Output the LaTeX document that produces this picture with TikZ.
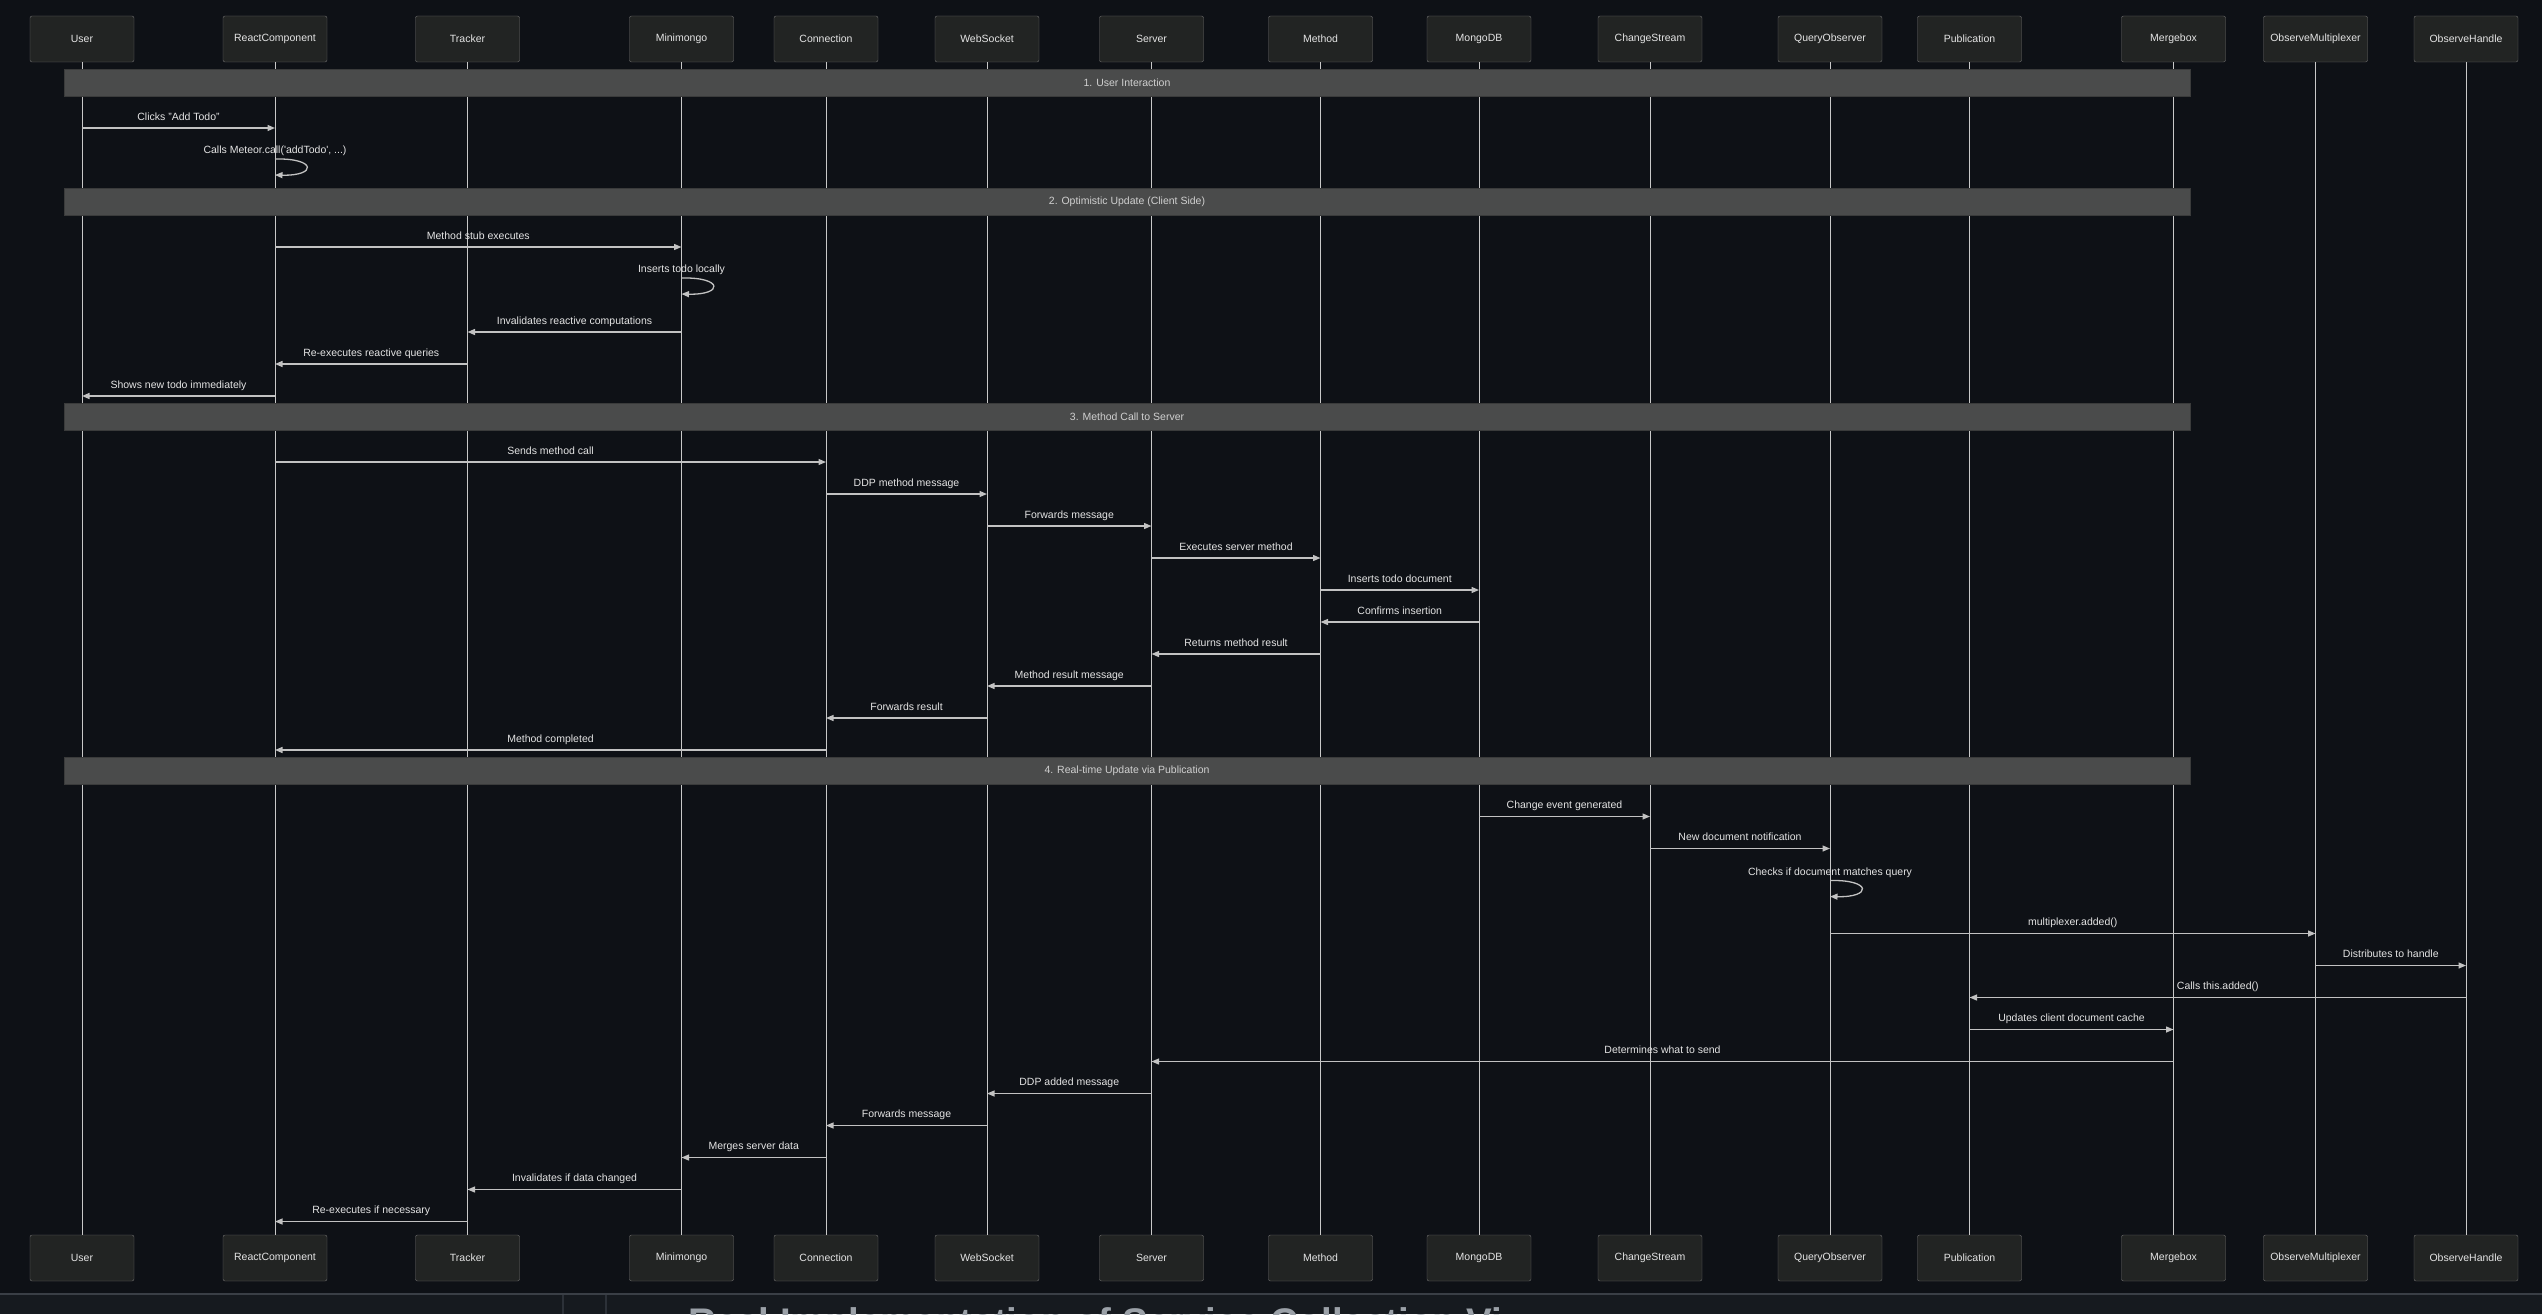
\documentclass[tikz,border=0pt]{standalone}
\usepackage{fontspec}
\setmainfont{Liberation Sans}
\usetikzlibrary{arrows.meta,positioning}

\definecolor{bg}{HTML}{0E1116}
\definecolor{boxfill}{HTML}{222423}
\definecolor{boxline}{HTML}{707070}
\definecolor{txt}{HTML}{E4E4E4}
\definecolor{life}{HTML}{C8C8C8}
\definecolor{msg}{HTML}{C2C2C2}
\definecolor{band}{HTML}{4A4B4B}
\definecolor{bandline}{HTML}{3A3B3B}
\definecolor{bandtxt}{HTML}{D0D0D0}
\definecolor{foot}{HTML}{161A1F}
\definecolor{footline}{HTML}{3A3F46}
\definecolor{footsep}{HTML}{2C3138}
\definecolor{foottxt}{HTML}{9BA1A8}

\begin{document}
\begin{tikzpicture}[x=1pt,y=-1pt,font=\fontsize{10.5}{12}\selectfont]
\tikzset{
    %Define standard arrow tip
    >={Triangle[length=7.5pt,width=6pt]},
    %Define style for participant boxes
    aktor/.style={
           rectangle,
           rounded corners=2pt,
           draw=boxline, fill=boxfill,
           text=txt,
           minimum width=104pt,
           minimum height=46pt,
           },
    % Define lifeline style
    livlinje/.style={
           draw=life,
           line width=0.9pt},
    % Define section band style
    sektion/.style={
           rectangle,
           draw=bandline, fill=band,
           text=bandtxt,
           minimum width=2126pt,
           minimum height=27pt,
           },
    % Define message style
    besked/.style={
           ->,
           draw=msg,
           line width=1.3pt,},
    tekst/.style={
           anchor=base,
           yshift=7.6pt,
           inner sep=0pt,
           text=txt},
    loektekst/.style={
           anchor=base,
           inner sep=0pt,
           text=txt}
}
	\fill[bg] (0,0) rectangle (2542,1314);
	\useasboundingbox (0,0) rectangle (2542,1314);

 %footer
	\fill[foot] (0,1294) rectangle (2542,1314);
	\draw[footline,line width=1.5pt] (0,1294) -- (2542,1294);
	\draw[footsep,line width=1.5pt] (563,1295) -- (563,1314) (606,1295) -- (606,1314);
	\begin{scope}
	\clip (0,0) rectangle (2542,1314);
	\node[anchor=base west,inner sep=0pt,text=foottxt,font=\fontsize{38.5}{40}\selectfont\bfseries] (titel) at (688,1335) {Real Implementation of Service Collection Vi};
	\end{scope}

 %participants
	\node[aktor] (user) at (82,39) {User};
	\node[aktor] (react) at (275,39) {ReactComponent};
	\node[aktor] (tracker) at (467.5,39) {Tracker};
	\node[aktor] (mini) at (681.5,39) {Minimongo};
	\node[aktor] (conn) at (826,39) {Connection};
	\node[aktor] (ws) at (987,39) {WebSocket};
	\node[aktor] (server) at (1151.5,39) {Server};
	\node[aktor] (method) at (1320.5,39) {Method};
	\node[aktor] (mongo) at (1479,39) {MongoDB};
	\node[aktor] (cstream) at (1650,39) {ChangeStream};
	\node[aktor] (qobs) at (1830,39) {QueryObserver};
	\node[aktor] (pub) at (1969.5,39) {Publication};
	\node[aktor] (merge) at (2173.5,39) {Mergebox};
	\node[aktor] (mplex) at (2315.5,39) {ObserveMultiplexer};
	\node[aktor] (handle) at (2466,39) {ObserveHandle};

	\node[aktor,shift={(0,1219)}] (user2) at (user) {User};
	\node[aktor,shift={(0,1219)}] (react2) at (react) {ReactComponent};
	\node[aktor,shift={(0,1219)}] (tracker2) at (tracker) {Tracker};
	\node[aktor,shift={(0,1219)}] (mini2) at (mini) {Minimongo};
	\node[aktor,shift={(0,1219)}] (conn2) at (conn) {Connection};
	\node[aktor,shift={(0,1219)}] (ws2) at (ws) {WebSocket};
	\node[aktor,shift={(0,1219)}] (server2) at (server) {Server};
	\node[aktor,shift={(0,1219)}] (method2) at (method) {Method};
	\node[aktor,shift={(0,1219)}] (mongo2) at (mongo) {MongoDB};
	\node[aktor,shift={(0,1219)}] (cstream2) at (cstream) {ChangeStream};
	\node[aktor,shift={(0,1219)}] (qobs2) at (qobs) {QueryObserver};
	\node[aktor,shift={(0,1219)}] (pub2) at (pub) {Publication};
	\node[aktor,shift={(0,1219)}] (merge2) at (merge) {Mergebox};
	\node[aktor,shift={(0,1219)}] (mplex2) at (mplex) {ObserveMultiplexer};
	\node[aktor,shift={(0,1219)}] (handle2) at (handle) {ObserveHandle};

 %lifelines
	\draw[livlinje] (user) -- (user2);
	\draw[livlinje] (react) -- (react2);
	\draw[livlinje] (tracker) -- (tracker2);
	\draw[livlinje] (mini) -- (mini2);
	\draw[livlinje] (conn) -- (conn2);
	\draw[livlinje] (ws) -- (ws2);
	\draw[livlinje] (server) -- (server2);
	\draw[livlinje] (method) -- (method2);
	\draw[livlinje] (mongo) -- (mongo2);
	\draw[livlinje] (cstream) -- (cstream2);
	\draw[livlinje] (qobs) -- (qobs2);
	\draw[livlinje] (pub) -- (pub2);
	\draw[livlinje] (merge) -- (merge2);
	\draw[livlinje] (mplex) -- (mplex2);
	\draw[livlinje] (handle) -- (handle2);

 %sections
	\node[sektion] (sek1) at (1127,82.5) {1. User Interaction};
	\node[sektion] (sek2) at (1127,201.5) {2. Optimistic Update (Client Side)};
	\node[sektion] (sek3) at (1127,416.5) {3. Method Call to Server};
	\node[sektion] (sek4) at (1127,770.5) {4. Real-time Update via Publication};

 %1. user interaction
	\path (user |- 0,128) edge[besked] node[tekst] {Clicks "Add Todo"} (react |- 0,128);
	\node[loektekst] (kald) at (react |- 0,153.3) {Calls Meteor.call(\textquotesingle addTodo\textquotesingle, ...)};
	\draw[besked] (react |- 0,159) .. controls +(42,-1) and +(42,1) .. (react |- 0,175);

 %2. optimistic update
	\path (react |- 0,247) edge[besked] node[tekst] {Method stub executes} (mini |- 0,247);
	\node[loektekst] (indsaet) at (mini |- 0,272.5) {Inserts todo locally};
	\draw[besked] (mini |- 0,278) .. controls +(42,-1) and +(42,1) .. (mini |- 0,294);
	\path (mini |- 0,332) edge[besked] node[tekst] {Invalidates reactive computations} (tracker |- 0,332);
	\path (tracker |- 0,364) edge[besked] node[tekst] {Re-executes reactive queries} (react |- 0,364);
	\path (react |- 0,396) edge[besked] node[tekst] {Shows new todo immediately} (user |- 0,396);

 %3. method call
	\path (react |- 0,462) edge[besked] node[tekst] {Sends method call} (conn |- 0,462);
	\path (conn |- 0,494) edge[besked] node[tekst] {DDP method message} (ws |- 0,494);
	\path (ws |- 0,526) edge[besked] node[tekst] {Forwards message} (server |- 0,526);
	\path (server |- 0,558) edge[besked] node[tekst] {Executes server method} (method |- 0,558);
	\path (method |- 0,590) edge[besked] node[tekst] {Inserts todo document} (mongo |- 0,590);
	\path (mongo |- 0,622) edge[besked] node[tekst] {Confirms insertion} (method |- 0,622);
	\path (method |- 0,654) edge[besked] node[tekst] {Returns method result} (server |- 0,654);
	\path (server |- 0,686) edge[besked] node[tekst] {Method result message} (ws |- 0,686);
	\path (ws |- 0,718) edge[besked] node[tekst] {Forwards result} (conn |- 0,718);
	\path (conn |- 0,750) edge[besked] node[tekst] {Method completed} (react |- 0,750);

 %4. real-time update
	\path (mongo |- 0,816.5) edge[besked] node[tekst] {Change event generated} (cstream |- 0,816.5);
	\path (cstream |- 0,848.5) edge[besked] node[tekst] {New document notification} (qobs |- 0,848.5);
	\node[loektekst] (tjek) at (qobs |- 0,875) {Checks if document matches query};
	\draw[besked] (qobs |- 0,880.5) .. controls +(42,-1) and +(42,1) .. (qobs |- 0,896.5);
	\path (qobs |- 0,933.5) edge[besked] node[tekst] {multiplexer.added()} (mplex |- 0,933.5);
	\path (mplex |- 0,965.5) edge[besked] node[tekst] {Distributes to handle} (handle |- 0,965.5);
	\path (handle |- 0,997.5) edge[besked] node[tekst] {Calls this.added()} (pub |- 0,997.5);
	\path (pub |- 0,1029.5) edge[besked] node[tekst] {Updates client document cache} (merge |- 0,1029.5);
	\path (merge |- 0,1061.5) edge[besked] node[tekst] {Determines what to send} (server |- 0,1061.5);
	\path (server |- 0,1093.5) edge[besked] node[tekst] {DDP added message} (ws |- 0,1093.5);
	\path (ws |- 0,1125.5) edge[besked] node[tekst] {Forwards message} (conn |- 0,1125.5);
	\path (conn |- 0,1157.5) edge[besked] node[tekst] {Merges server data} (mini |- 0,1157.5);
	\path (mini |- 0,1189.5) edge[besked] node[tekst] {Invalidates if data changed} (tracker |- 0,1189.5);
	\path (tracker |- 0,1221.5) edge[besked] node[tekst] {Re-executes if necessary} (react |- 0,1221.5);

\end{tikzpicture}
\end{document}
